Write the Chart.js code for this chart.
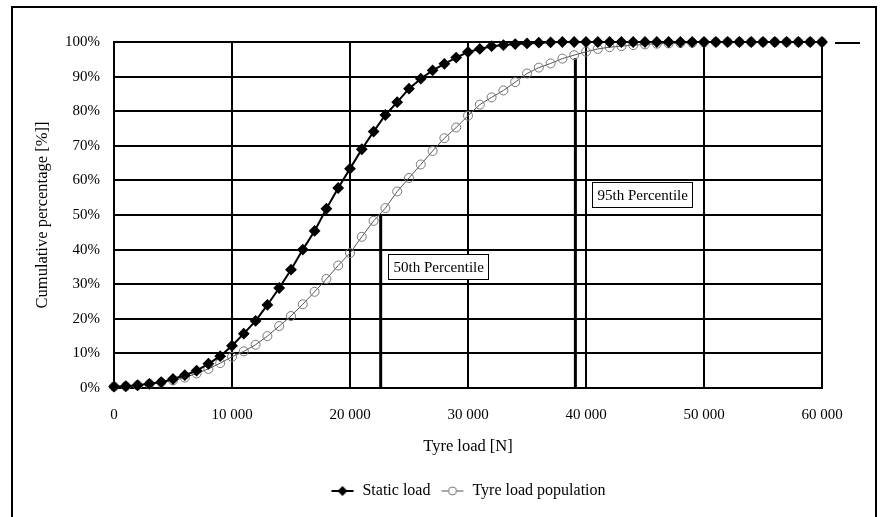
<!DOCTYPE html>
<html lang="en">
<head>
  <meta charset="UTF-8" />
  <title>Tyre load - cumulative percentage</title>
  <script src="https://cdn.jsdelivr.net/npm/chart.js"></script>
  <style>
    body { margin: 0; background: #fff; }
    #wrap { position: relative; width: 880px; height: 517px; overflow: hidden; }
    #frame { position: absolute; left: 11px; top: 6px; width: 862px; height: 540px; border: 2px solid #000; border-bottom: none; }
    #chart { position: absolute; left: 0; top: 0; }
  </style>
</head>
<body>
  <div id="wrap">
    <div id="frame"></div>
    <canvas id="chart" width="880" height="517"></canvas>
  </div>

  <script>
    // tyre load [N], one point every 1000 N
    const loads = [
      0, 1000, 2000, 3000, 4000, 5000, 6000, 7000, 8000, 9000,
      10000, 11000, 12000, 13000, 14000, 15000, 16000, 17000, 18000, 19000,
      20000, 21000, 22000, 23000, 24000, 25000, 26000, 27000, 28000, 29000,
      30000, 31000, 32000, 33000, 34000, 35000, 36000, 37000, 38000, 39000,
      40000, 41000, 42000, 43000, 44000, 45000, 46000, 47000, 48000, 49000,
      50000, 51000, 52000, 53000, 54000, 55000, 56000, 57000, 58000, 59000,
      60000
    ];

    // cumulative percentage [%]
    const staticLoad = [
      0.4, 0.5, 0.8, 1.2, 1.7, 2.6, 3.7, 5.0, 7.0, 9.2,
      12.2, 15.7, 19.4, 24.0, 28.9, 34.2, 40.0, 45.4, 51.8, 57.8,
      63.4, 69.0, 74.1, 78.9, 82.6, 86.5, 89.4, 91.8, 93.7, 95.5,
      97.1, 98.0, 98.8, 99.1, 99.4, 99.6, 99.8, 99.9, 100, 100,
      100, 100, 100, 100, 100, 100, 100, 100, 100, 100,
      100, 100, 100, 100, 100, 100, 100, 100, 100, 100,
      100
    ];
    const populationLoad = [
      0.4, 0.5, 0.8, 1.2, 1.6, 2.2, 3.0, 4.2, 5.5, 7.2,
      9.0, 10.6, 12.5, 15.0, 17.9, 20.8, 24.2, 27.8, 31.5, 35.4,
      39.0, 43.7, 48.3, 52.0, 56.8, 60.7, 64.6, 68.5, 72.2, 75.3,
      78.7, 81.9, 84.0, 86.0, 88.4, 90.9, 92.6, 93.8, 95.2, 96.2,
      97.2, 98.0, 98.5, 98.8, 99.1, 99.3, 99.5, 99.6, 99.7, 99.8,
      99.9, 100, 100, 100, 100, 100, 100, 100, 100, 100,
      100
    ];

    const xTickLabels = ['0', '10 000', '20 000', '30 000', '40 000', '50 000', '60 000'];

    // percentile markers
    const percentileNames = ['50th Percentile', '95th Percentile'];
    const percentileLoads = [22600, 39100];
    const percentileLevels = [50, 95.3];

    // where the label boxes sit (top-left corner, in data units)
    const labelAt = [{ x: 23200, y: 38.8 }, { x: 40500, y: 59.6 }];

    const serif = '"Liberation Serif", "Times New Roman", serif';

    function legendSymbol(kind) {
      const c = document.createElement('canvas');
      c.width = 24; c.height = 14;
      const g = c.getContext('2d');
      g.beginPath();
      g.moveTo(1, 7); g.lineTo(23, 7);
      if (kind === 'diamond') {
        g.strokeStyle = '#000'; g.lineWidth = 2; g.stroke();
        g.beginPath();
        g.moveTo(12, 2); g.lineTo(17, 7); g.lineTo(12, 12); g.lineTo(7, 7); g.closePath();
        g.fillStyle = '#000'; g.fill();
      } else {
        g.strokeStyle = '#555'; g.lineWidth = 1; g.stroke();
        g.beginPath();
        g.arc(12, 7, 4, 0, Math.PI * 2);
        g.fillStyle = '#fff'; g.fill();
        g.strokeStyle = '#777'; g.stroke();
      }
      return c;
    }

    const percentileLabels = {
      id: 'percentileLabels',
      afterDatasetsDraw(chart) {
        const { ctx, chartArea, scales: { x, y } } = chart;
        ctx.save();
        ctx.font = '15px ' + serif;
        percentileNames.forEach((name, i) => {
          const left = Math.round(x.getPixelForValue(labelAt[i].x)) + 0.5;
          const top = Math.round(y.getPixelForValue(labelAt[i].y)) + 0.5;
          const w = Math.round(ctx.measureText(name).width + 10);
          const h = 25;
          ctx.fillStyle = '#fff';
          ctx.fillRect(left, top, w, h);
          ctx.strokeStyle = '#000';
          ctx.lineWidth = 1;
          ctx.strokeRect(left, top, w, h);
          ctx.fillStyle = '#000';
          ctx.textBaseline = 'middle';
          ctx.fillText(name, left + 5, top + h / 2 + 1);
        });
        // short stroke beside the top right corner of the plot
        ctx.strokeStyle = '#000';
        ctx.lineWidth = 2;
        ctx.beginPath();
        ctx.moveTo(chartArea.right + 13, chartArea.top + 1);
        ctx.lineTo(chartArea.right + 38, chartArea.top + 1);
        ctx.stroke();
        ctx.restore();
      }
    };

    const percentileSets = percentileNames.map((name, i) => ({
      label: name,
      data: [{ x: percentileLoads[i], y: 0 }, { x: percentileLoads[i], y: percentileLevels[i] }],
      borderColor: '#000',
      borderWidth: 3,
      pointRadius: 0,
      clip: false
    }));

    new Chart(document.getElementById('chart'), {
      type: 'line',
      data: {
        datasets: [
          {
            label: 'Static load',
            data: loads.map((v, i) => ({ x: v, y: staticLoad[i] })),
            borderColor: '#000',
            backgroundColor: '#000',
            borderWidth: 2,
            pointStyle: 'rectRot',
            pointRadius: 4.5,
            pointBackgroundColor: '#000',
            pointBorderColor: '#000',
            clip: false
          },
          {
            label: 'Tyre load population',
            data: loads.map((v, i) => ({ x: v, y: populationLoad[i] })),
            borderColor: '#555',
            borderWidth: 1,
            pointStyle: 'circle',
            pointRadius: 4.5,
            pointBackgroundColor: 'rgba(255,255,255,0)',
            pointBorderColor: '#777',
            pointBorderWidth: 1,
            clip: false
          },
          ...percentileSets
        ]
      },
      options: {
        responsive: false,
        animation: false,
        events: [],
        layout: { padding: { left: 0, top: 42, right: 58, bottom: 8 } },
        scales: {
          x: {
            type: 'linear',
            min: 0,
            max: 60000,
            grid: { color: '#000', lineWidth: 2, drawTicks: false },
            border: { color: '#000', width: 2 },
            ticks: {
              stepSize: 10000,
              padding: 18,
              color: '#000',
              font: { family: serif, size: 15 },
              maxRotation: 0,
              callback: v => xTickLabels[v / 10000]
            },
            title: {
              display: true,
              text: 'Tyre load [N]',
              color: '#000',
              font: { family: serif, size: 16.5 },
              padding: { top: 0, bottom: 16 }
            },
            afterFit: s => { s.height = 85; }
          },
          y: {
            min: 0,
            max: 100,
            grid: { color: '#000', lineWidth: 2, drawTicks: false },
            border: { color: '#000', width: 2 },
            ticks: {
              stepSize: 10,
              padding: 14,
              color: '#000',
              font: { family: serif, size: 15 },
              callback: v => v + '%'
            },
            title: {
              display: true,
              text: 'Cumulative percentage [%]]',
              color: '#000',
              font: { family: serif, size: 16.5 },
              padding: { top: 33, bottom: 0 }
            },
            afterFit: s => { s.width = 114; }
          }
        },
        plugins: {
          tooltip: { enabled: false },
          legend: {
            position: 'bottom',
            fullSize: false,
            labels: {
              color: '#000',
              font: { family: serif, size: 16 },
              usePointStyle: true,
              pointStyleWidth: 24,
              padding: 10,
              generateLabels: () => [
                { text: 'Static load', pointStyle: legendSymbol('diamond'), fontColor: '#000', datasetIndex: 0, lineWidth: 0, strokeStyle: 'rgba(0,0,0,0)', fillStyle: 'rgba(0,0,0,0)' },
                { text: 'Tyre load population', pointStyle: legendSymbol('circle'), fontColor: '#000', datasetIndex: 1, lineWidth: 0, strokeStyle: 'rgba(0,0,0,0)', fillStyle: 'rgba(0,0,0,0)' }
              ]
            }
          }
        }
      },
      plugins: [percentileLabels]
    });
  </script>
</body>
</html>
